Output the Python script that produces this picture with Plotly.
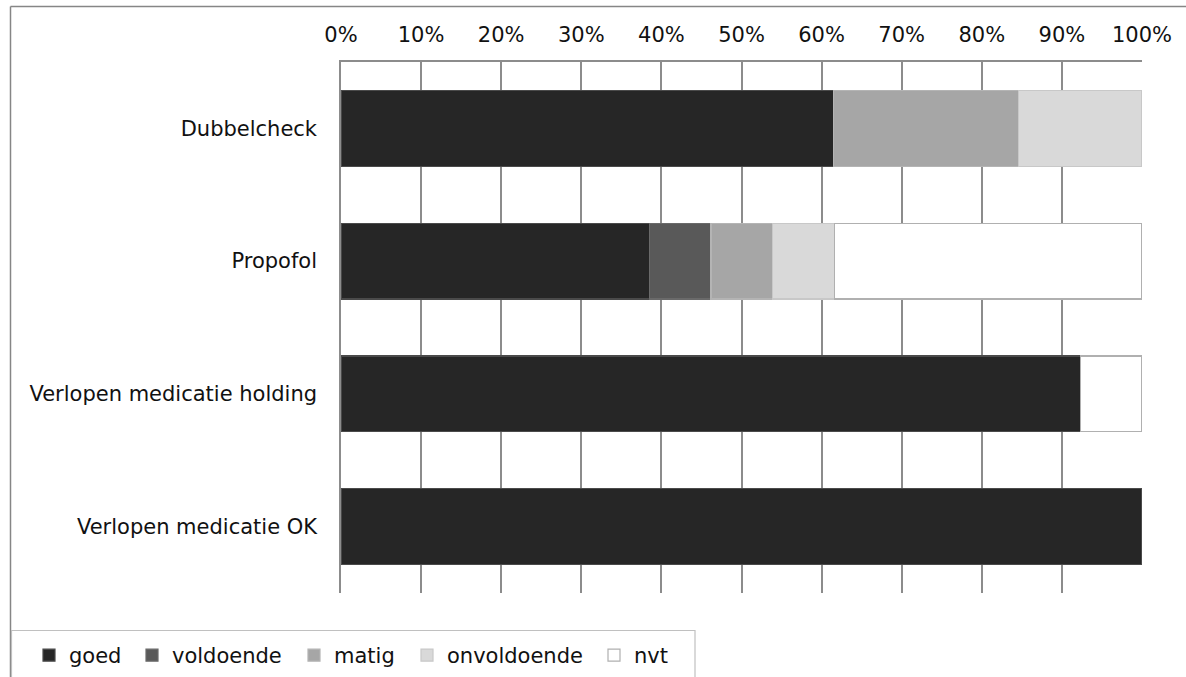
import plotly.graph_objects as go

# Data (percentages)
categories = ["Dubbelcheck", "Propofol", "Verlopen medicatie holding", "Verlopen medicatie OK"]
goed = [61.5, 38.5, 92.3, 100.0]
voldoende = [None, 7.7, None, None]
matig = [23.1, 7.7, None, None]
onvoldoende = [15.4, 7.7, None, None]
nvt = [None, 38.4, 7.7, None]

series_names = ["goed", "voldoende", "matig", "onvoldoende", "nvt"]
series_values = [goed, voldoende, matig, onvoldoende, nvt]
fill_colors = ["#262626", "#595959", "#A6A6A6", "#D9D9D9", "#FFFFFF"]
line_colors = ["#4a4a4a", "#6a6a6a", "#b4b4b4", "#c8c8c8", "#b0b0b0"]
# left pixel position of each legend entry's text (legend layout)
legend_text_px = [65, 168, 330, 443, 630]

W, H = 1186, 677
L, R, T, B = 341, 44, 62, 84
PW, PH = W - L - R, H - T - B


def px_x(px):
    return (px - L) / PW


def px_y(py):
    return (H - B - py) / PH


grid = "#8c8c8c"
font = "DejaVu Sans, Verdana, sans-serif"
FS = 21

fig = go.Figure()
legend_layouts = {}
for i, (name, vals, color, lcolor) in enumerate(zip(series_names, series_values, fill_colors, line_colors)):
    lname = "legend" if i == 0 else f"legend{i + 1}"
    fig.add_trace(go.Bar(
        y=categories, x=vals, name=name, orientation="h",
        marker=dict(color=color, line=dict(color=lcolor, width=1.2)),
        legend=lname,
    ))
    legend_layouts[lname] = dict(
        orientation="h",
        x=px_x(legend_text_px[i] - 36), xanchor="left",
        y=px_y(635), yanchor="top",
        bgcolor="rgba(0,0,0,0)", borderwidth=0,
        font=dict(size=FS, family=font, color="#111111"),
        itemwidth=30,
    )

fig.update_layout(
    width=W, height=H,
    margin=dict(l=L, r=R, t=T, b=B, pad=0, autoexpand=False),
    barmode="stack",
    bargap=0.43,
    paper_bgcolor="white",
    plot_bgcolor="white",
    font=dict(family=font, size=FS, color="#111111"),
    xaxis=dict(
        side="top", range=[0, 100], dtick=10, ticksuffix="%",
        showgrid=True, gridcolor=grid, gridwidth=1.5,
        showline=True, linecolor=grid, linewidth=1.5,
        zeroline=False, ticks="", ticklabelstandoff=10,
        tickfont=dict(size=FS, family=font, color="#111111"),
        fixedrange=True,
    ),
    yaxis=dict(
        categoryorder="array", categoryarray=categories,
        autorange="reversed",
        showgrid=False, showline=True, linecolor=grid, linewidth=1.5,
        ticks="", ticklabelstandoff=18,
        tickfont=dict(size=FS, family=font, color="#111111"),
    ),
    showlegend=True,
    shapes=[
        # outer chart frame (top and left edges visible)
        dict(type="line", xref="paper", yref="paper",
             x0=px_x(10.5), x1=1.2, y0=px_y(6.5), y1=px_y(6.5),
             line=dict(color="#868686", width=1.5)),
        dict(type="line", xref="paper", yref="paper",
             x0=px_x(10.5), x1=px_x(10.5), y0=px_y(6.5), y1=-0.3,
             line=dict(color="#868686", width=1.5)),
        # legend frame
        dict(type="rect", xref="paper", yref="paper",
             x0=px_x(11.5), x1=px_x(695), y0=-0.3, y1=px_y(630.5),
             line=dict(color="#c0c0c0", width=1.2), fillcolor="rgba(0,0,0,0)"),
    ],
)
fig.update_layout(**legend_layouts)

fig.write_html("out.html")
